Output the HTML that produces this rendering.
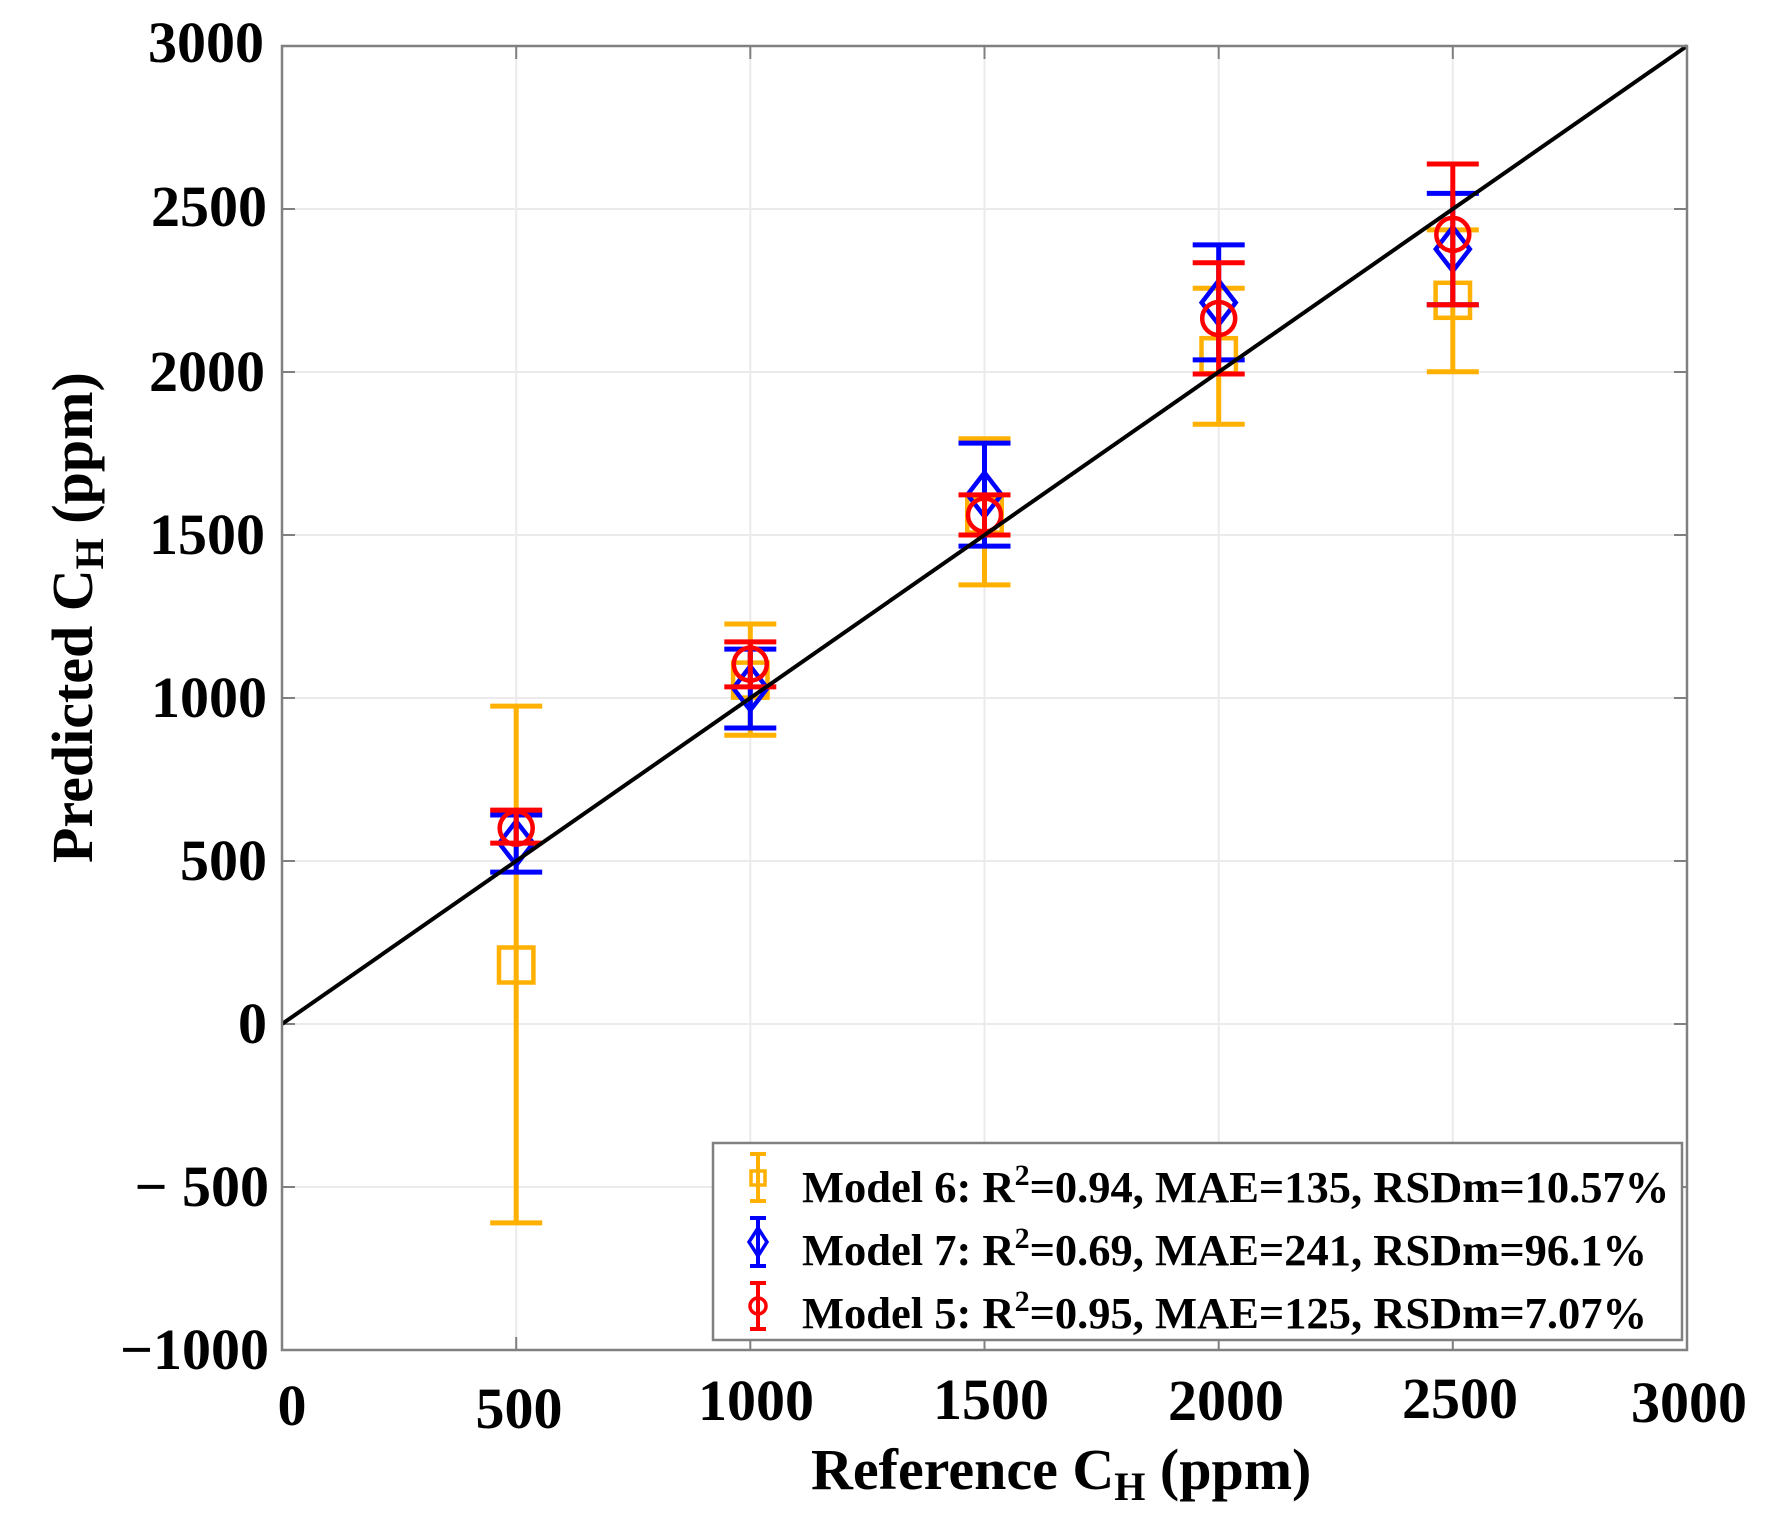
<!DOCTYPE html>
<html>
<head>
<meta charset="utf-8">
<style>
  html, body { margin: 0; padding: 0; background: #ffffff; }
  svg { display: block; }
  text { font-family: "Liberation Serif", "Times New Roman", serif; font-weight: bold; fill: #000; }
</style>
</head>
<body>
<svg width="1781" height="1519" viewBox="0 0 1781 1519" xmlns="http://www.w3.org/2000/svg">
  <rect x="0" y="0" width="1781" height="1519" fill="#ffffff"/>

  <!-- grid -->
  <g stroke="#ebebeb" stroke-width="2" fill="none">
    <line x1="516.2" y1="46" x2="516.2" y2="1350"/>
    <line x1="750.3" y1="46" x2="750.3" y2="1350"/>
    <line x1="984.5" y1="46" x2="984.5" y2="1350"/>
    <line x1="1218.7" y1="46" x2="1218.7" y2="1350"/>
    <line x1="1452.8" y1="46" x2="1452.8" y2="1350"/>
    <line x1="282" y1="209" x2="1687" y2="209"/>
    <line x1="282" y1="372" x2="1687" y2="372"/>
    <line x1="282" y1="535" x2="1687" y2="535"/>
    <line x1="282" y1="698" x2="1687" y2="698"/>
    <line x1="282" y1="861" x2="1687" y2="861"/>
    <line x1="282" y1="1024" x2="1687" y2="1024"/>
    <line x1="282" y1="1187" x2="1687" y2="1187"/>
  </g>

  <!-- ticks -->
  <g stroke="#808080" stroke-width="2">
    <!-- bottom & top -->
    <line x1="516.2" y1="1350" x2="516.2" y2="1337"/><line x1="516.2" y1="46" x2="516.2" y2="59"/>
    <line x1="750.3" y1="1350" x2="750.3" y2="1337"/><line x1="750.3" y1="46" x2="750.3" y2="59"/>
    <line x1="984.5" y1="1350" x2="984.5" y2="1337"/><line x1="984.5" y1="46" x2="984.5" y2="59"/>
    <line x1="1218.7" y1="1350" x2="1218.7" y2="1337"/><line x1="1218.7" y1="46" x2="1218.7" y2="59"/>
    <line x1="1452.8" y1="1350" x2="1452.8" y2="1337"/><line x1="1452.8" y1="46" x2="1452.8" y2="59"/>
    <!-- left & right -->
    <line x1="282" y1="209" x2="295" y2="209"/><line x1="1687" y1="209" x2="1674" y2="209"/>
    <line x1="282" y1="372" x2="295" y2="372"/><line x1="1687" y1="372" x2="1674" y2="372"/>
    <line x1="282" y1="535" x2="295" y2="535"/><line x1="1687" y1="535" x2="1674" y2="535"/>
    <line x1="282" y1="698" x2="295" y2="698"/><line x1="1687" y1="698" x2="1674" y2="698"/>
    <line x1="282" y1="861" x2="295" y2="861"/><line x1="1687" y1="861" x2="1674" y2="861"/>
    <line x1="282" y1="1024" x2="295" y2="1024"/><line x1="1687" y1="1024" x2="1674" y2="1024"/>
    <line x1="282" y1="1187" x2="295" y2="1187"/><line x1="1687" y1="1187" x2="1674" y2="1187"/>
  </g>

  <!-- Model 6 (orange) -->
  <g stroke="#ffb000" stroke-width="5" fill="none">
    <line x1="516.2" y1="706.1" x2="516.2" y2="1222.9"/>
    <line x1="490.2" y1="706.1" x2="542.2" y2="706.1"/>
    <line x1="490.2" y1="1222.9" x2="542.2" y2="1222.9"/>
    <rect x="499" y="947.5" width="34.4" height="35" stroke-width="4.5"/>

    <line x1="750.3" y1="624" x2="750.3" y2="735.2"/>
    <line x1="724.3" y1="624" x2="776.3" y2="624"/>
    <line x1="724.3" y1="735.2" x2="776.3" y2="735.2"/>
    <rect x="733.1" y="662.6" width="34.4" height="35" stroke-width="4.5"/>

    <line x1="984.5" y1="438.8" x2="984.5" y2="584.9"/>
    <line x1="958.5" y1="438.8" x2="1010.5" y2="438.8"/>
    <line x1="958.5" y1="584.9" x2="1010.5" y2="584.9"/>
    <rect x="967.3" y="497.6" width="34.4" height="35" stroke-width="4.5"/>

    <line x1="1218.7" y1="288.2" x2="1218.7" y2="424.2"/>
    <line x1="1192.7" y1="288.2" x2="1244.7" y2="288.2"/>
    <line x1="1192.7" y1="424.2" x2="1244.7" y2="424.2"/>
    <rect x="1201.5" y="338.2" width="34.4" height="35" stroke-width="4.5"/>

    <line x1="1452.8" y1="229.9" x2="1452.8" y2="371.7"/>
    <line x1="1426.8" y1="229.9" x2="1478.8" y2="229.9"/>
    <line x1="1426.8" y1="371.7" x2="1478.8" y2="371.7"/>
    <rect x="1435.6" y="282.8" width="34.4" height="35" stroke-width="4.5"/>
  </g>

  <!-- Model 7 (blue) -->
  <g stroke="#0000ff" stroke-width="5" fill="none">
    <line x1="516.2" y1="815" x2="516.2" y2="872.1"/>
    <line x1="490.2" y1="815" x2="542.2" y2="815"/>
    <line x1="490.2" y1="872.1" x2="542.2" y2="872.1"/>
    <polygon points="516.2,821.1 533.2,843.1 516.2,865.1 499.2,843.1" stroke-width="4.5"/>

    <line x1="750.3" y1="649.1" x2="750.3" y2="728"/>
    <line x1="724.3" y1="649.1" x2="776.3" y2="649.1"/>
    <line x1="724.3" y1="728" x2="776.3" y2="728"/>
    <polygon points="750.3,666.2 767.3,688.2 750.3,710.2 733.3,688.2" stroke-width="4.5"/>

    <line x1="984.5" y1="443.1" x2="984.5" y2="546.1"/>
    <line x1="958.5" y1="443.1" x2="1010.5" y2="443.1"/>
    <line x1="958.5" y1="546.1" x2="1010.5" y2="546.1"/>
    <polygon points="984.5,472.6 1001.5,494.6 984.5,516.6 967.5,494.6" stroke-width="4.5"/>

    <line x1="1218.7" y1="244.9" x2="1218.7" y2="359.9"/>
    <line x1="1192.7" y1="244.9" x2="1244.7" y2="244.9"/>
    <line x1="1192.7" y1="359.9" x2="1244.7" y2="359.9"/>
    <polygon points="1218.7,280.6 1235.7,302.6 1218.7,324.6 1201.7,302.6" stroke-width="4.5"/>

    <line x1="1452.8" y1="193.4" x2="1452.8" y2="304.8"/>
    <line x1="1426.8" y1="193.4" x2="1478.8" y2="193.4"/>
    <line x1="1426.8" y1="304.8" x2="1478.8" y2="304.8"/>
    <polygon points="1452.8,227.1 1469.8,249.1 1452.8,271.1 1435.8,249.1" stroke-width="4.5"/>
  </g>

  <!-- Model 5 (red) -->
  <g stroke="#ff0000" stroke-width="5" fill="none">
    <line x1="516.2" y1="810.1" x2="516.2" y2="843.1"/>
    <line x1="490.2" y1="810.1" x2="542.2" y2="810.1"/>
    <line x1="490.2" y1="843.1" x2="542.2" y2="843.1"/>
    <circle cx="516.2" cy="828.1" r="16.5" stroke-width="4.5"/>

    <line x1="750.3" y1="641.9" x2="750.3" y2="686.9"/>
    <line x1="724.3" y1="641.9" x2="776.3" y2="641.9"/>
    <line x1="724.3" y1="686.9" x2="776.3" y2="686.9"/>
    <circle cx="750.3" cy="664.1" r="16.5" stroke-width="4.5"/>

    <line x1="984.5" y1="494.9" x2="984.5" y2="535"/>
    <line x1="958.5" y1="494.9" x2="1010.5" y2="494.9"/>
    <line x1="958.5" y1="535" x2="1010.5" y2="535"/>
    <circle cx="984.5" cy="515.1" r="16.5" stroke-width="4.5"/>

    <line x1="1218.7" y1="262.8" x2="1218.7" y2="374"/>
    <line x1="1192.7" y1="262.8" x2="1244.7" y2="262.8"/>
    <line x1="1192.7" y1="374" x2="1244.7" y2="374"/>
    <circle cx="1218.7" cy="318.5" r="16.5" stroke-width="4.5"/>

    <line x1="1452.8" y1="164" x2="1452.8" y2="304.8"/>
    <line x1="1426.8" y1="164" x2="1478.8" y2="164"/>
    <line x1="1426.8" y1="304.8" x2="1478.8" y2="304.8"/>
    <circle cx="1452.8" cy="234.4" r="16.5" stroke-width="4.5"/>
  </g>

  <!-- y = x line -->
  <line x1="282" y1="1024" x2="1687" y2="46" stroke="#000" stroke-width="4"/>

  <!-- axes box -->
  <rect x="282" y="46" width="1405" height="1304" fill="none" stroke="#808080" stroke-width="2.5"/>

  <!-- legend -->
  <rect x="713" y="1143" width="969" height="197" fill="#ffffff" stroke="#808080" stroke-width="2.5"/>
  <g fill="none" stroke-width="4">
    <g stroke="#ffb000">
      <line x1="758" y1="1154" x2="758" y2="1201"/>
      <line x1="750" y1="1154" x2="766" y2="1154"/>
      <line x1="750" y1="1201" x2="766" y2="1201"/>
      <rect x="751" y="1171" width="14" height="14" stroke-width="3.5"/>
    </g>
    <g stroke="#0000ff">
      <line x1="758" y1="1218" x2="758" y2="1266"/>
      <line x1="750" y1="1218" x2="766" y2="1218"/>
      <line x1="750" y1="1266" x2="766" y2="1266"/>
      <polygon points="758,1228 767,1242 758,1256 749,1242" stroke-width="3.5"/>
    </g>
    <g stroke="#ff0000">
      <line x1="758" y1="1283" x2="758" y2="1329"/>
      <line x1="750" y1="1283" x2="766" y2="1283"/>
      <line x1="750" y1="1329" x2="766" y2="1329"/>
      <circle cx="758" cy="1306" r="8" stroke-width="3.5"/>
    </g>
  </g>
  <text x="802" y="1202" font-size="44.5">Model 6: R<tspan font-size="30" dy="-17">2</tspan><tspan dy="17">=0.94, MAE=135, RSDm=10.57%</tspan></text>
  <text x="802" y="1265" font-size="44.5">Model 7: R<tspan font-size="30" dy="-17">2</tspan><tspan dy="17">=0.69, MAE=241, RSDm=96.1%</tspan></text>
  <text x="802" y="1328" font-size="44.5">Model 5: R<tspan font-size="30" dy="-17">2</tspan><tspan dy="17">=0.95, MAE=125, RSDm=7.07%</tspan></text>

  <!-- y tick labels -->
  <g font-size="58" text-anchor="end">
    <text x="264" y="62">3000</text>
    <text x="267" y="226">2500</text>
    <text x="265" y="391">2000</text>
    <text x="265" y="554">1500</text>
    <text x="267" y="717">1000</text>
    <text x="267" y="880">500</text>
    <text x="267" y="1043">0</text>
    <text x="269" y="1206">− 500</text>
    <text x="269" y="1369">−1000</text>
  </g>

  <!-- x tick labels -->
  <g font-size="58" text-anchor="middle">
    <text x="292" y="1425">0</text>
    <text x="519" y="1428">500</text>
    <text x="756" y="1420">1000</text>
    <text x="991" y="1419">1500</text>
    <text x="1226" y="1420">2000</text>
    <text x="1460" y="1418">2500</text>
    <text x="1689" y="1422">3000</text>
  </g>

  <!-- axis labels -->
  <text x="811" y="1489" font-size="58">Reference C<tspan font-size="40" dy="11">H</tspan><tspan dy="-11"> (ppm)</tspan></text>
  <text transform="translate(92,863) rotate(-90)" font-size="58">Predicted C<tspan font-size="40" dy="11">H</tspan><tspan dy="-11"> (ppm)</tspan></text>
</svg>
</body>
</html>
